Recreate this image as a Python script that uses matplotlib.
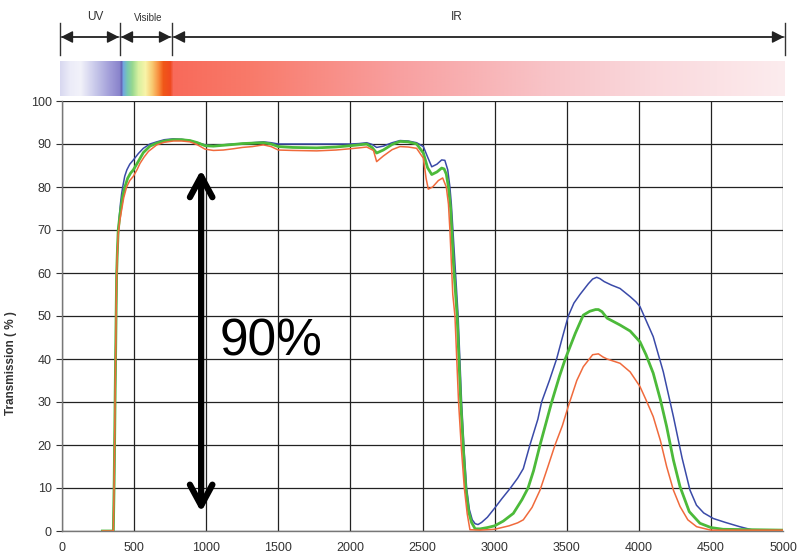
import numpy as np
import matplotlib
matplotlib.use("Agg")
import matplotlib.pyplot as plt
from matplotlib.patches import FancyArrowPatch

plt.rcParams['font.family'] = ['Liberation Sans', 'DejaVu Sans']

# ---------------- data ----------------
blue_wl = [280, 356, 362, 368, 374, 379, 385, 390, 397, 405, 413, 421, 435, 450, 470, 495, 530,
           564, 610, 657, 710, 772, 830, 888, 940, 992, 1050, 1119, 1190, 1250, 1320, 1396, 1450,
           1500, 1600, 1766, 1900, 2000, 2060, 2113, 2150, 2182, 2228, 2290, 2344, 2400, 2459,
           2506, 2535, 2564, 2600, 2633, 2655, 2675, 2690, 2700, 2720, 2747, 2771, 2790, 2806,
           2825, 2845, 2865, 2885, 2910, 2950, 3000, 3050, 3110, 3160, 3199, 3245, 3300, 3326,
           3380, 3430, 3470, 3511, 3550, 3592, 3650, 3680, 3708, 3730, 3760, 3810, 3870, 3940,
           3980, 4008, 4050, 4100, 4170, 4240, 4300, 4355, 4400, 4450, 4517, 4600, 4700, 4793,
           5000]
blue_t = [0, 0, 12, 30, 47, 60, 66, 70, 73, 76, 78.3, 80, 82.5, 84, 85.3, 86.3, 87.8,
          89, 90, 90.5, 91, 91.2, 91.1, 90.8, 90.3, 89.8, 89.6, 89.8, 90, 90.1, 90.3, 90.5, 90.3,
          90, 90, 90, 90, 90, 90.1, 90.3, 89.9, 89.2, 89.5, 90.3, 90.8, 90.7, 90.3,
          89.4, 87, 84.7, 85.3, 86.3, 86.2, 84, 80, 76, 65, 50, 30, 18, 10,
          5, 2.6, 1.7, 1.5, 2, 3.2, 5.3, 7.5, 10, 12.3, 14.5, 20, 26, 30,
          35, 40, 45, 50, 53, 55, 57.5, 58.6, 59, 58.7, 58, 57.2, 56.4, 54.5,
          53.3, 52.2, 49, 45.2, 37, 26.6, 17, 9.5, 6, 4.2, 2.9, 2, 1, 0.2,
          0.2]

green_wl = [280, 356, 362, 368, 374, 379, 385, 390, 400, 410, 422, 436, 455, 475, 495, 530,
            564, 610, 657, 710, 772, 830, 888, 940, 992, 1050, 1119, 1190, 1250, 1320, 1396,
            1450, 1500, 1600, 1766, 1900, 2000, 2060, 2113, 2150, 2182, 2228, 2290, 2344, 2400,
            2459, 2506, 2535, 2564, 2600, 2633, 2650, 2665, 2680, 2695, 2715, 2740, 2765, 2785,
            2800, 2820, 2840, 2865, 2900, 2950, 3000, 3060, 3130, 3190, 3232, 3270, 3315, 3396,
            3450, 3490, 3560, 3615, 3660, 3700, 3720, 3745, 3780, 3870, 3940, 4008, 4050, 4100,
            4150, 4193, 4240, 4286, 4350, 4424, 4500, 4584, 5000]
green_t = [0, 0, 12, 30, 47, 60, 66, 70, 73, 75.5, 78, 80, 82, 83.2, 84, 86,
           88, 89.5, 90.2, 90.7, 91, 91, 90.8, 90.3, 89.6, 89.5, 89.7, 89.9, 90.1, 90.2, 90.3,
           90, 89.4, 89.2, 89.1, 89.3, 89.6, 89.8, 90, 89.2, 87.9, 88.6, 89.9, 90.6, 90.5,
           90, 87.9, 84.5, 82.9, 83.5, 84.4, 84.2, 83, 80, 75, 62, 50, 30, 18,
           10, 4.5, 2, 0.5, 0.5, 0.8, 1.2, 2.3, 4.1, 7.3, 10, 14, 20, 30,
           36, 40, 46, 50.2, 51.1, 51.5, 51.5, 51, 49.5, 47.9, 46.5, 44, 41, 36.7,
           30.5, 24.3, 16.5, 10.3, 4.5, 1.8, 0.8, 0.4, 0.2]

orange_wl = [280, 356, 362, 368, 374, 379, 385, 390, 400, 410, 428, 448, 470, 495, 520, 541,
             570, 600, 657, 710, 773, 830, 888, 940, 992, 1050, 1119, 1190, 1250, 1320, 1396,
             1450, 1500, 1600, 1766, 1900, 2000, 2060, 2113, 2160, 2182, 2228, 2290, 2344, 2400,
             2459, 2506, 2525, 2540, 2570, 2610, 2640, 2665, 2680, 2690, 2710, 2725, 2750, 2770,
             2790, 2810, 2829, 2900, 3000, 3100, 3160, 3199, 3260, 3315, 3370, 3419, 3470, 3511,
             3570, 3615, 3680, 3720, 3750, 3780, 3870, 3940, 4008, 4050, 4100, 4150, 4193, 4240,
             4286, 4340, 4401, 4500, 5000]
orange_t = [0, 0, 12, 30, 47, 60, 65.5, 69, 72, 74, 77.5, 80, 81.5, 82.5, 84, 85.5,
            87, 88.3, 89.8, 90.4, 90.7, 90.7, 90.5, 89.8, 88.8, 88.5, 88.6, 88.9, 89.2, 89.4, 89.8,
            89.4, 88.6, 88.5, 88.4, 88.6, 88.9, 89.1, 89.3, 88.5, 85.9, 87.2, 88.7, 89.4, 89.3,
            89, 86.7, 82, 79.5, 80, 81.5, 82.1, 80, 76, 70, 55, 50, 30, 19,
            10, 4, 0.3, 0.2, 0.4, 1.2, 1.9, 2.6, 5.5, 9.5, 15, 20, 24.5, 29,
            35, 38.2, 41, 41.2, 40.5, 40, 39, 37, 33.6, 30.5, 26.6, 21, 15, 9.5,
            5.7, 2.6, 1.0, 0.2, 0.2]

x_ticks = [0, 500, 1000, 1500, 2000, 2500, 3000, 3500, 4000, 4500, 5000]
y_ticks = [0, 10, 20, 30, 40, 50, 60, 70, 80, 90, 100]
band_labels = ["UV", "Visible", "IR"]
arrow_label = "90%"

# ---------------- figure ----------------
W, H = 800, 557
fig = plt.figure(figsize=(W / 100, H / 100), dpi=100)
fig.patch.set_facecolor('white')

def fr(x0, y0, x1, y1):
    return [x0 / W, 1 - y1 / H, (x1 - x0) / W, (y1 - y0) / H]

ax = fig.add_axes(fr(62, 101, 783, 531))
ax.plot(blue_wl, blue_t, color='#3a4aa8', lw=1.1, zorder=3)
ax.plot(green_wl, green_t, color='#4cba3a', lw=2.0, zorder=4)
ax.plot(orange_wl, orange_t, color='#f06a3c', lw=1.1, zorder=5)

ax.set_xlim(0, 5000)
ax.set_ylim(0, 100)
ax.set_xticks(x_ticks)
ax.set_yticks(y_ticks)
ax.grid(True, color='#222222', lw=0.9)
ax.set_axisbelow(True)
for s in ['top', 'right']:
    ax.spines[s].set_visible(False)
for s in ['left', 'bottom']:
    ax.spines[s].set_color('#777777')
    ax.spines[s].set_linewidth(1.0)
ax.tick_params(axis='both', labelsize=9, colors='#333333', length=4, width=0.8)
ax.tick_params(axis='x', pad=8, length=0)
ax.set_ylabel("Transmission ( % )", fontsize=8.5, fontweight='bold', color='#333333', labelpad=12)
ax.yaxis.set_label_coords(-0.063, 0.39)

# big double arrow
ax.annotate('', xy=(965, 84.0), xytext=(965, 4.4),
            arrowprops=dict(arrowstyle='<->,head_length=0.5,head_width=0.27', lw=4.5,
                            color='black', mutation_scale=30, shrinkA=0, shrinkB=0),
            zorder=6)
ax.text(1096, 40.9, arrow_label, fontsize=37, va='baseline', ha='left', color='black', zorder=6)

# spectrum bar
bar = fig.add_axes(fr(60, 61, 785, 96))
px = np.arange(60, 786)
stops_x = [60, 70, 80, 95, 110, 119, 121, 123, 127, 132, 138, 145, 152, 158, 163, 170, 173,
           250, 400, 550, 650, 785]
stops_c = ['#d8d8f0', '#ececf8', '#f2f2fa', '#c8c8ea', '#a09cd8', '#8a84cc', '#6868b8', '#70a8e0',
           '#78c8b0', '#98d890', '#d8f0a0', '#f8f4a8', '#f8c870', '#f89040', '#f05818', '#f04a20',
           '#f86a5a', '#f87a6a', '#f8a0a0', '#f8c4c8', '#fad8dc', '#fcecee']
rgb = np.array([matplotlib.colors.to_rgb(c) for c in stops_c])
img = np.stack([np.interp(px, stops_x, rgb[:, k]) for k in range(3)], axis=-1)
img = np.repeat(img[None, :, :], 10, axis=0)
bar.imshow(img, aspect='auto', extent=[60, 785, 0, 1])
bar.set_axis_off()

# band arrows overlay
ov = fig.add_axes([0, 0, 1, 1])
ov.set_xlim(0, W)
ov.set_ylim(H, 0)
ov.set_axis_off()
ov.patch.set_alpha(0)
bounds = [60, 120, 172, 785]
for b in bounds:
    ov.plot([b, b], [23, 55], color='#333333', lw=1.0)
for a, b in zip(bounds[:-1], bounds[1:]):
    for s, e in [(a + 1, b - 1), (b - 1, a + 1)]:
        ov.add_patch(FancyArrowPatch((s, 37), (e, 37),
                                     arrowstyle='-|>,head_length=0.55,head_width=0.28',
                                     mutation_scale=13, lw=1.0, color='#222222',
                                     shrinkA=0, shrinkB=0))
ov.text(95, 17, band_labels[0], fontsize=8.5, ha='center', va='center', color='#333333')
ov.text(148, 18, band_labels[1], fontsize=7, ha='center', va='center', color='#333333')
ov.text(457, 17, band_labels[2], fontsize=8.5, ha='center', va='center', color='#333333')

fig.savefig('out.png', dpi=100, facecolor='white')
